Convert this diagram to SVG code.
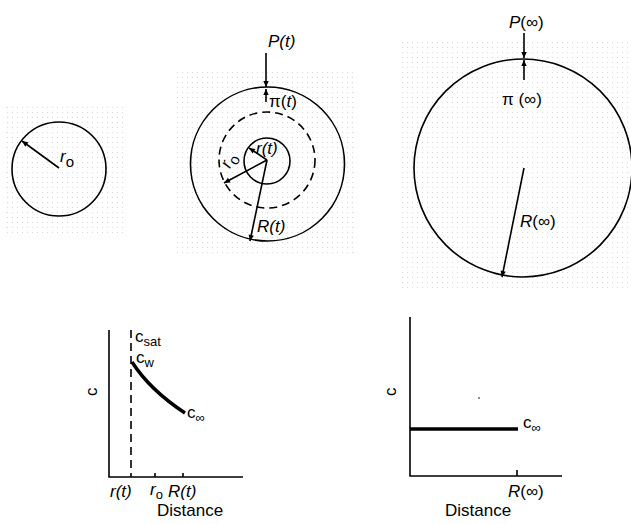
<svg xmlns="http://www.w3.org/2000/svg" width="631" height="524" viewBox="0 0 631 524">
<style>
.ln{fill:none;stroke:#000;stroke-width:1.6}
.thick{fill:none;stroke:#000;stroke-width:3.5}
.dash{fill:none;stroke:#000;stroke-width:1.6;stroke-dasharray:8,5}
.t{font-family:"Liberation Sans",Arial,sans-serif;font-size:17px;fill:#000}
.i{font-style:italic}
.sub{font-size:13px}
.sub2{font-size:15px}
</style>
<defs>
<marker id="ah" viewBox="0 0 10 10" refX="10" refY="5" markerWidth="9" markerHeight="6" orient="auto" markerUnits="userSpaceOnUse"><path d="M0,0.5 L10,5 L0,9.5 z" fill="#000"/></marker>
<pattern id="dots" width="5" height="5" patternUnits="userSpaceOnUse"><rect x="2" y="2" width="1" height="1" fill="#c8c8c8"/></pattern>
</defs>
<rect width="631" height="524" fill="#fff"/>
<g id="halftone" opacity="0.7">
<rect x="3" y="105" width="122" height="128" fill="url(#dots)"/>
<rect x="175" y="68" width="182" height="185" fill="url(#dots)"/>
<rect x="400" y="40" width="231" height="252" fill="url(#dots)"/>
</g>
<g id="sphere-initial">
<circle class="ln" cx="59" cy="169" r="47" fill="#fff"/>
<line class="ln" x1="59" y1="168" x2="22" y2="141" marker-end="url(#ah)"/>
<text class="t i" x="60" y="162" font-size="18">r<tspan class="sub2" dy="5" font-style="normal">o</tspan></text>
</g>
<g id="sphere-growing">
<circle class="ln" cx="267.5" cy="164" r="77" fill="#fff"/>
<circle class="dash" cx="267" cy="160" r="48"/>
<circle class="ln" cx="267" cy="161" r="23"/>
<line class="ln" x1="267" y1="160" x2="249" y2="148" marker-end="url(#ah)"/>
<line class="ln" x1="267" y1="160" x2="224" y2="183" marker-end="url(#ah)"/>
<line class="ln" x1="267" y1="160" x2="250" y2="241" marker-end="url(#ah)"/>
<line class="ln" x1="266" y1="53" x2="266" y2="87" marker-end="url(#ah)"/>
<line class="ln" x1="266" y1="102" x2="266" y2="89" marker-end="url(#ah)"/>
<text class="t i" x="268" y="47">P(t)</text>
<text class="t" x="269" y="107">π(<tspan class="i">t</tspan>)</text>
<text class="t i" x="256" y="154" font-size="15">r(t)</text>
<text class="t i" transform="translate(230,169) rotate(-65)" font-size="18">r<tspan class="sub2" dy="5" font-style="normal">o</tspan></text>
<text class="t i" x="257" y="232">R(t)</text>
</g>
<g id="sphere-final">
<circle class="ln" cx="523" cy="168" r="109" fill="#fff"/>
<line class="ln" x1="524" y1="33" x2="524" y2="58" marker-end="url(#ah)"/>
<line class="ln" x1="524" y1="80" x2="524" y2="60" marker-end="url(#ah)"/>
<line class="ln" x1="524" y1="168" x2="502" y2="277" marker-end="url(#ah)"/>
<text class="t" x="509" y="28"><tspan class="i">P</tspan>(∞)</text>
<text class="t" x="502" y="105">π (∞)</text>
<text class="t" x="520" y="227"><tspan class="i">R</tspan>(∞)</text>
</g>
<g id="graph-growing">
<polyline class="ln" points="109,330 109,477 243,477"/>
<line class="ln" x1="155" y1="477" x2="155" y2="473"/>
<line class="ln" x1="183" y1="477" x2="183" y2="473"/>
<line class="dash" x1="131" y1="330" x2="131" y2="477"/>
<path class="thick" d="M132,362 Q150,390 185,413"/>
<text class="t" transform="translate(97,396) rotate(-90)">c</text>
<text class="t" x="135" y="342">c<tspan class="sub" dy="4">sat</tspan></text>
<text class="t" x="136" y="363">c<tspan class="sub" dy="4">w</tspan></text>
<text class="t" x="187" y="418">c<tspan class="sub" dy="4">∞</tspan></text>
<text class="t i" x="110" y="497">r(t)</text>
<text class="t i" x="150" y="495">r<tspan class="sub" dy="4" font-style="normal">o</tspan></text>
<text class="t i" x="168" y="497">R(t)</text>
<text class="t" x="157" y="516">Distance</text>
</g>
<g id="graph-final">
<polyline class="ln" points="410,317 410,476 562,476"/>
<line class="ln" x1="517" y1="476" x2="517" y2="470"/>
<line class="thick" x1="410" y1="429" x2="518" y2="429"/>
<circle cx="479" cy="398" r="0.8" fill="#000"/>
<text class="t" transform="translate(396,396) rotate(-90)">c</text>
<text class="t" x="523" y="428">c<tspan class="sub" dy="4">∞</tspan></text>
<text class="t" x="508" y="497"><tspan class="i">R</tspan>(∞)</text>
<text class="t" x="445" y="516">Distance</text>
</g>
</svg>
